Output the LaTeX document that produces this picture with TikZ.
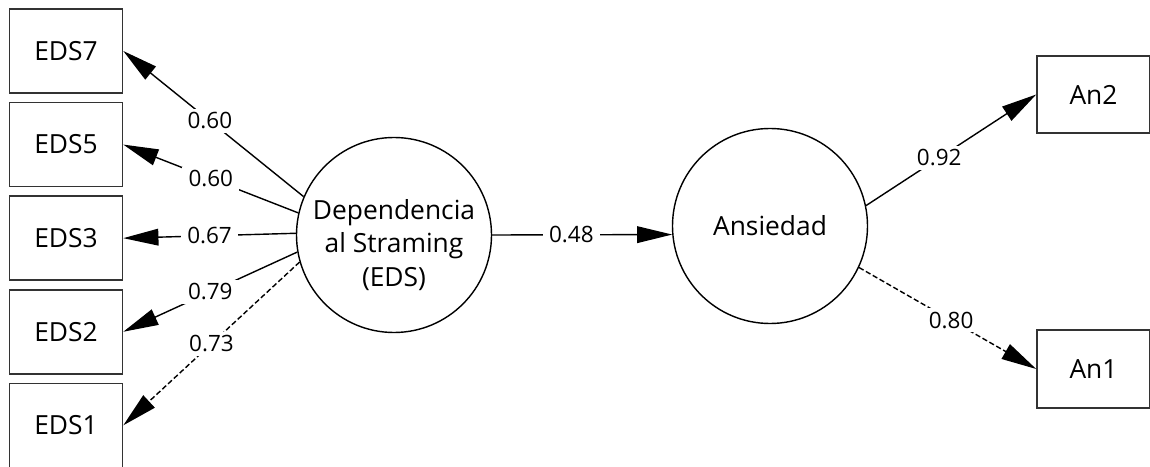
\documentclass[tikz,border=0pt]{standalone}
\usepackage{fontspec}
\setmainfont{Open Sans}
\usetikzlibrary{arrows.meta,positioning}

\begin{document}
\begin{tikzpicture}[node distance=1.6mm and 1.6mm, >={Triangle[length=20pt,width=9.5pt]}]

\tikzset{obsnode/.style={draw=black!80,line width=0.9pt,minimum width=2.26cm,minimum height=1.68cm,inner sep=0pt,font=\fontsize{15}{18}\selectfont},
latnode/.style={draw,line width=0.8pt,shape=circle,minimum size=3.9cm,inner sep=0pt,align=center,font=\fontsize{15}{19}\selectfont},
path/.style={->,line width=0.8pt},
dpath/.style={->,line width=0.8pt,dash pattern=on 3pt off 1.5pt},
coef/.style={fill=white,inner xsep=3.5pt,inner ysep=2pt,font=\fontsize{12.8}{14}\selectfont}}

\useasboundingbox (0,0) rectangle (23,9.32);

% Indicator nodes (left)
\node (eds7) [obsnode] at (1.32, 8.30) {EDS7};
\node (eds5) [below=of eds7,obsnode] {EDS5};
\node (eds3) [below=of eds5,obsnode] {EDS3};
\node (eds2) [below=of eds3,obsnode] {EDS2};
\node (eds1) [below=of eds2,obsnode] {EDS1};

% Latent nodes
\node (dep) [latnode] at (7.88, 4.62) {\raisebox{-0.22cm}[\height][\depth]{\begin{tabular}{@{}c@{}}Dependencia\\al Straming\\(EDS)\end{tabular}}};
\node (ans) [latnode] at (15.40, 4.80) {Ansiedad};

% Indicator nodes (right)
\node (an2) [obsnode,minimum height=1.55cm] at (21.87, 7.43) {An2};
\node (an1) [obsnode,minimum height=1.55cm] at (21.87, 1.94) {An1};

% Loadings
\draw[path] (dep.157) -- node[coef,pos=0.52] {0.60} (eds7.east);
\draw[path] (dep.167) -- node[coef,pos=0.5] {0.60} (eds5.east);
\draw[path] (dep.179) -- node[coef,pos=0.5] {0.67} (eds3.east);
\draw[path] (dep.190) -- node[coef,pos=0.5] {0.79} (eds2.east);
\draw[dpath] (dep.196) -- node[coef,pos=0.5] {0.73} (eds1.east);
\draw[path] (ans.12) -- node[coef,pos=0.43] {0.92} (an2.west);
\draw[dpath] (ans.-25) -- node[coef,pos=0.52] {0.80} (an1.west);

% Structural path
\draw[path] (dep.east) -- node[coef,pos=0.44] {0.48} (ans.185);

\end{tikzpicture}
\end{document}
